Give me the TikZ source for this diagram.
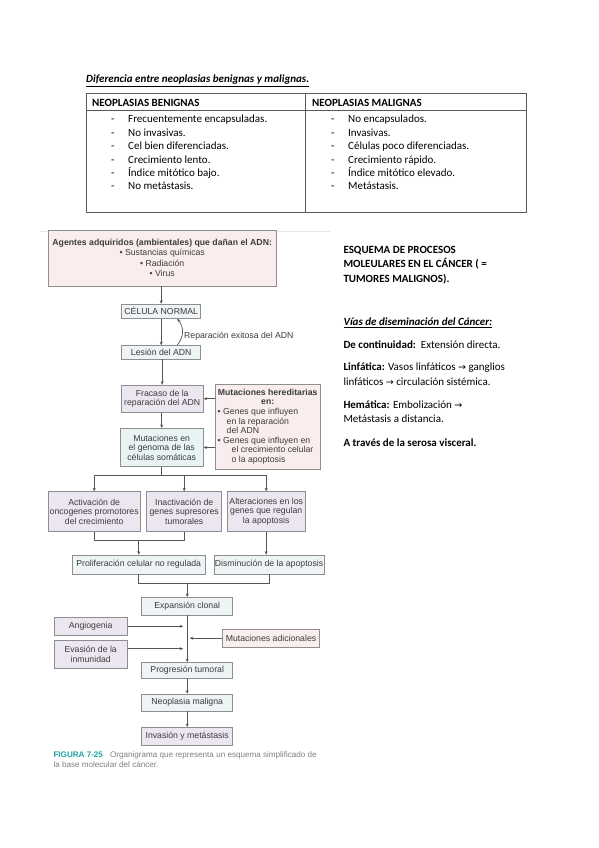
\documentclass[tikz,border=0pt]{standalone}
\usepackage{fontspec}
\setmainfont{Carlito}
\newfontfamily\figfont{Liberation Sans}
\newfontfamily\arrowfont{DejaVu Sans}
\usetikzlibrary{arrows.meta}
\definecolor{rosa}{HTML}{FAEDED}
\definecolor{celeste}{HTML}{EEF3F6}
\definecolor{aqua}{HTML}{E8F4F4}
\definecolor{lila}{HTML}{ECE6F0}
\definecolor{borde}{HTML}{8E8E8E}
\definecolor{flecha}{HTML}{555555}
\definecolor{figtexto}{HTML}{3C3C3C}
\definecolor{verdeazul}{HTML}{22A3A6}
\newcommand{\flechita}{{\arrowfont\fontsize{9.5}{9.5}\selectfont →}}
\newcommand{\fuentefig}{\figfont\fontsize{8.7}{9.6}\selectfont}

\begin{document}
\begin{tikzpicture}[x=1pt, y=-1pt,
	doc/.style={anchor=base west, inner sep=0pt, font=\fontsize{11}{13.4}\selectfont},
	box/.style={draw=borde, line width=0.6pt, inner sep=1pt, align=center, text=figtexto, font=\fuentefig},
	figlabel/.style={inner sep=0pt, text=figtexto, font=\fuentefig},
	tabline/.style={draw=black!65, line width=0.8pt},
	line/.style={draw=flecha, line width=0.7pt},
	arr/.style={line, -{Stealth[length=3.5pt,width=3pt]}}]
\fill[white] (0,0) rectangle (599,848);

% tabla
\node[doc] (titulo) at (86,82.5) {\underline{\textbf{\textit{Diferencia entre neoplasias benignas y malignas.}}}};
\draw[tabline] (86,93.5) rectangle (526,212.7);
\draw[tabline] (86,110.7) -- (526,110.7);
\draw[tabline] (305.7,93.5) -- (305.7,212.7);
\node[doc] (hbenig) at (92,106.5) {\textbf{NEOPLASIAS BENIGNAS}};
\node[doc] (hmalig) at (312,106.5) {\textbf{NEOPLASIAS MALIGNAS}};
\foreach \i/\l/\r in {1/Frecuentemente encapsuladas./No encapsulados.,
	2/No invasivas./Invasivas.,
	3/Cel bien diferenciadas./Células poco diferenciadas.,
	4/Crecimiento lento./Crecimiento rápido.,
	5/Índice mitótico bajo./Índice mitótico elevado.,
	6/No metástasis./Metástasis.}
{
	\node[doc] (ld\i) at (111,109.4+13.4*\i) {-};
	\node[doc] (lb\i) at (128,109.4+13.4*\i) {\l};
	\node[doc] (rd\i) at (331,109.4+13.4*\i) {-};
	\node[doc] (rb\i) at (348,109.4+13.4*\i) {\r};
}

% texto a la derecha
\node[doc] (esq1) at (343.3,253) {\textbf{ESQUEMA DE PROCESOS}};
\node[doc] (esq2) at (343.3,267.5) {\textbf{MOLEULARES EN EL CÁNCER ( =}};
\node[doc] (esq3) at (343.3,282) {\textbf{TUMORES MALIGNOS).}};
\node[doc] (vias) at (343.3,325.8) {\underline{\textbf{\textit{Vías de diseminación del Cáncer:}}}};
\node[doc] (cont) at (343.3,348.5) {\textbf{De continuidad:}\ \ Extensión directa.};
\node[doc] (linf1) at (343.3,370.8) {\textbf{Linfática:} Vasos linfáticos \flechita\ ganglios};
\node[doc] (linf2) at (343.3,385.2) {linfáticos \flechita\ circulación sistémica.};
\node[doc] (hem1) at (343.3,408.5) {\textbf{Hemática:} Embolización \flechita};
\node[doc] (hem2) at (343.3,422.8) {Metástasis a distancia.};
\node[doc] (serosa) at (343.3,446.8) {\textbf{A través de la serosa visceral.}};

% organigrama
\draw[black!10, line width=0.6pt] (40,231) -- (330,231);
\node[box, fill=rosa, minimum width=227.7pt, minimum height=56pt, font=\figfont\fontsize{8.7}{10.3}\selectfont] (agentes) at (162.2,258)
	{\textbf{Agentes adquiridos (ambientales) que dañan el ADN:}\\ • Sustancias químicas\\ • Radiación\\ • Virus};
\node[box, fill=celeste, minimum width=79pt, minimum height=14.3pt] (celula) at (161.2,311.2) {CÉLULA NORMAL};
\node[box, fill=celeste, minimum width=79pt, minimum height=13.5pt] (lesion) at (161.2,352.3) {Lesión del ADN};
\node[figlabel, anchor=west] (repar) at (184,336.5) {Reparación exitosa del ADN};
\node[box, fill=lila, minimum width=82.3pt, minimum height=27.3pt] (fracaso) at (162.2,398.7) {Fracaso de la\\ reparación del ADN};
\node[box, fill=rosa, minimum width=105.5pt, minimum height=85.3pt] (hered) at (267.7,426.7)
	{\textbf{Mutaciones hereditarias}\\ \textbf{en:}\\
	\makebox[100pt][l]{• Genes que influyen}\\
	\makebox[100pt][l]{\hspace{9pt}en la reparación}\\
	\makebox[100pt][l]{\hspace{9pt}del ADN}\\
	\makebox[100pt][l]{• Genes que influyen en}\\
	\makebox[100pt][l]{\hspace{14pt}el crecimiento celular}\\
	\makebox[100pt][l]{\hspace{14pt}o la apoptosis}};
\node[box, fill=aqua, minimum width=83.3pt, minimum height=38.4pt] (mutsom) at (161.7,447.5) {Mutaciones en\\ el genoma de las\\ células somáticas};
\node[box, fill=lila, minimum width=91.7pt, minimum height=40pt] (activ) at (94.2,511.7) {Activación de\\ oncogenes promotores\\ del crecimiento};
\node[box, fill=lila, minimum width=75pt, minimum height=40pt] (inact) at (184.2,511.7) {Inactivación de\\ genes supresores\\ tumorales};
\node[box, fill=lila, minimum width=77.7pt, minimum height=40pt] (alter) at (266.2,511.7) {Alteraciones en los\\ genes que regulan\\ la apoptosis};
\node[box, fill=celeste, minimum width=132.7pt, minimum height=19pt] (prolif) at (138.7,564.5) {Proliferación celular no regulada};
\node[box, fill=celeste, minimum width=103.4pt, minimum height=19pt] (dismin) at (269,564.5) {Disminución de la apoptosis};
\node[box, fill=celeste, minimum width=91pt, minimum height=17.7pt] (expan) at (187.2,606.2) {Expansión clonal};
\node[box, fill=lila, minimum width=73.3pt, minimum height=17.3pt] (angio) at (90.7,626.3) {Angiogenia};
\node[box, fill=lila, minimum width=73.3pt, minimum height=28.3pt] (evasion) at (90.7,654.2) {Evasión de la\\ inmunidad};
\node[box, fill=rosa, minimum width=96.6pt, minimum height=18.3pt] (mutad) at (271,638.2) {Mutaciones adicionales};
\node[box, fill=celeste, minimum width=91pt, minimum height=16pt] (progres) at (187.2,670.5) {Progresión tumoral};
\node[box, fill=celeste, minimum width=91pt, minimum height=17pt] (neopl) at (187.2,702.5) {Neoplasia maligna};
\node[box, fill=lila, minimum width=91pt, minimum height=17.7pt] (invas) at (187.2,736.2) {Invasión y metástasis};

\draw[arr] (agentes.south -| celula.north) -- (celula.north);
\draw[arr] (celula) -- (lesion);
\draw[arr] ([xshift=16pt]lesion.north) .. controls +(7,-9) and +(7,9) .. ([xshift=16pt]celula.south);
\draw[arr] (lesion.south -| fracaso.north) -- (fracaso.north);
\draw[arr] (fracaso.south -| mutsom.north) -- (mutsom.north);
\draw[arr] (hered.west |- fracaso) -- (fracaso.east);
\draw[arr] (hered.west |- mutsom) -- (mutsom.east);
\draw[line] (mutsom.south) -- ++(0,8.3) coordinate (split);
\draw[line] (split -| activ) -- (split -| alter);
\foreach \n in {activ,inact,alter}
	\draw[arr] (split -| \n) -- (\n.north);
\path ([yshift=-8.3pt]activ.south) coordinate (join1);
\draw[line] (activ.south) -- (join1) -- (join1 -| inact) -- (inact.south);
\draw[arr] (join1 -| prolif) -- (prolif.north);
\draw[arr] (alter.south) -- (alter.south |- dismin.north);
\path ([yshift=-8.7pt]prolif.south) coordinate (join2);
\draw[line] (prolif.south) -- (join2) -- (join2 -| dismin) -- (dismin.south);
\draw[arr] (join2 -| expan) -- (expan.north);
\draw[arr] (expan.south) -- (progres.north);
\draw[arr] (angio.east) -- ([xshift=-4pt]angio.east -| expan.south);
\draw[arr] ([yshift=5.5pt]evasion.east) -- ([xshift=-4pt,yshift=5.5pt]evasion.east -| expan.south);
\draw[arr] (mutad.west) -- ([xshift=2.5pt]mutad.west -| expan.south);
\draw[arr] (progres) -- (neopl);
\draw[arr] (neopl) -- (invas);

% pie de figura
\node[anchor=base west, inner sep=0pt, text=black!50, font=\figfont\fontsize{8.1}{9}\selectfont] (pie1) at (53.3,757.5)
	{\textcolor{verdeazul}{\textbf{FIGURA 7-25}}\hspace{7pt}Organigrama que representa un esquema simplificado de};
\node[anchor=base west, inner sep=0pt, text=black!50, font=\figfont\fontsize{8.1}{9}\selectfont] (pie2) at (53.3,767)
	{la base molecular del cáncer.};
\end{tikzpicture}
\end{document}
